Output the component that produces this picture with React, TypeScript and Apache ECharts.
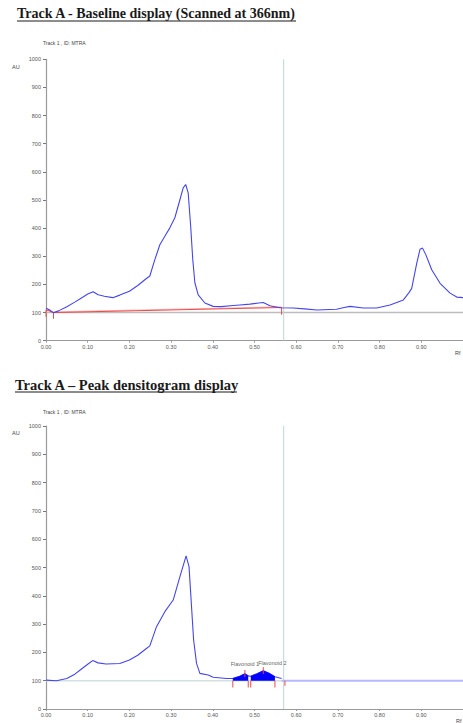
import React, { useEffect, useRef } from "react";
import * as echarts from "echarts";

// ---- Data ----
const titles = ["Track A - Baseline display (Scanned at 366nm)", "Track A \u2013 Peak densitogram display"];
const trackLabel = "Track 1 , ID: MTRA";
const xTicks = { min: 0, max: 1, interval: 0.1 };
const yTicks = { min: 0, max: 1000, interval: 100 };

// Top: raw densitogram (Rf, AU)
const topRf = [0.0, 0.008, 0.018, 0.03, 0.05, 0.07, 0.085, 0.1, 0.113, 0.125, 0.14, 0.16, 0.177, 0.2, 0.22, 0.24, 0.249, 0.261, 0.273, 0.285, 0.297, 0.309, 0.321, 0.329, 0.335, 0.341, 0.347, 0.352, 0.357, 0.365, 0.381, 0.401, 0.42, 0.449, 0.465, 0.489, 0.51, 0.521, 0.537, 0.561, 0.593, 0.62, 0.65, 0.68, 0.697, 0.715, 0.729, 0.761, 0.793, 0.825, 0.857, 0.87, 0.877, 0.889, 0.897, 0.903, 0.911, 0.925, 0.945, 0.969, 0.985, 1.0];
const topAU = [115, 110, 99, 106, 121, 138, 152, 166, 174, 163, 158, 153, 162, 176, 196, 220, 230, 288, 341, 371, 401, 437, 500, 543, 555, 525, 405, 288, 206, 163, 134, 122, 121, 125, 127, 130, 134, 136, 124, 117, 116, 113, 109, 111, 112, 118, 122, 116, 116, 127, 145, 170, 186, 275, 325, 329, 305, 252, 204, 169, 155, 153];
const topBaselineRf = [0.0, 0.018, 0.565];
const topBaselineAU = [110, 100, 118];

// Bottom: peak densitogram (Rf, AU)
const botRf = [0.0, 0.025, 0.05, 0.07, 0.082, 0.1, 0.112, 0.125, 0.144, 0.177, 0.2, 0.22, 0.24, 0.249, 0.265, 0.285, 0.305, 0.321, 0.336, 0.343, 0.349, 0.354, 0.361, 0.369, 0.389, 0.401, 0.433, 0.448, 0.465, 0.477, 0.485, 0.491, 0.505, 0.521, 0.535, 0.549, 0.565];
const botAU = [102, 100, 108, 124, 138, 158, 171, 163, 159, 161, 173, 190, 213, 223, 291, 344, 385, 467, 541, 503, 361, 244, 161, 126, 120, 112, 108, 108, 116, 125, 117, 116, 124, 135, 126, 114, 108];
const peakNames = ["Flavonoid 1", "Flavonoid 2"];
const peakStart = [0.448, 0.491];
const peakEnd = [0.485, 0.549];
const peakMax = [0.477, 0.521];
const trackEndRf = 0.57;
const baselineAU = 100;

const zip = (a: number[], b: number[]) => a.map((v, i) => [v, b[i]]);

export default function App() {
  const ref = useRef<HTMLDivElement>(null);
  useEffect(() => {
    if (!ref.current) return;
    const chart = echarts.init(ref.current, undefined, { renderer: "svg" });
    const font = "Liberation Sans";
    const xAxisBase = (gi: number) => ({
      gridIndex: gi,
      type: "value",
      min: xTicks.min,
      max: xTicks.max,
      interval: xTicks.interval,
      axisLine: { show: true, onZero: false, lineStyle: { color: "#9a9a9a", width: 1.2 } },
      axisTick: { show: true, length: 2, lineStyle: { color: "#9a9a9a" } },
      axisLabel: { fontSize: 5.5, color: "#555", margin: 3, fontFamily: font, showMaxLabel: false, formatter: (v: number) => v.toFixed(2) },
      splitLine: { show: false },
    });
    const yAxisBase = (gi: number) => ({
      gridIndex: gi,
      type: "value",
      min: yTicks.min,
      max: yTicks.max,
      interval: yTicks.interval,
      axisLine: { show: true, lineStyle: { color: "#9a9a9a", width: 1.2 } },
      axisTick: { show: true, length: 3, lineStyle: { color: "#777" } },
      axisLabel: { fontSize: 5.5, color: "#555", margin: 5, fontFamily: font, formatter: (v: number) => String(v) },
      splitLine: { show: false },
    });
    const botCurve = zip(botRf, botAU);
    const peakData = (i: number) => botCurve.filter((p) => p[0] >= peakStart[i] - 1e-9 && p[0] <= peakEnd[i] + 1e-9);
    const peakTop = (i: number) => botAU[botRf.indexOf(peakMax[i])];
    const red = "#f04848";
    // segments joined with gaps ('-') so one line series draws many short ticks
    const segs = (list: number[][]) => {
      const out: any[] = [];
      list.forEach(([x, y1, y2], i) => {
        if (i > 0) out.push("-");
        out.push([x, y1], [x, y2]);
      });
      return out;
    };
    const txt = (text: string, left: number, top: number, size: number, fill = "#444") => ({
      type: "text", left, top, silent: true,
      style: { text, fontSize: size, fontFamily: font, fill },
    });
    const plain = (gi: number, z: number, data: any[], color: string, width: number, extra: any = {}) => ({
      type: "line", xAxisIndex: gi, yAxisIndex: gi, z, symbol: "none", silent: true, connectNulls: false,
      data, color, lineStyle: { color, width }, ...extra,
    });

    const option: any = {
      animation: false,
      backgroundColor: "#fff",
      grid: [
        { left: 46, top: 59.3, width: 417, height: 281.4 },
        { left: 46, top: 426, width: 417, height: 283 },
      ],
      xAxis: [xAxisBase(0), xAxisBase(1)],
      yAxis: [yAxisBase(0), yAxisBase(1)],
      series: [
        // ---- top chart ----
        plain(0, 1, [[xTicks.min, baselineAU], [xTicks.max, baselineAU]], "#bdbdbd", 1.5),
        plain(0, 1, [[trackEndRf, yTicks.min], [trackEndRf, yTicks.max]], "#bcd6d6", 1),
        plain(0, 2, zip(topBaselineRf, topBaselineAU.map((v, i) => (i === 0 ? v : v + 2.5))), "#f8b8b8", 1),
        plain(0, 3, zip(topBaselineRf, topBaselineAU), red, 1),
        plain(0, 3, segs([
          [topBaselineRf[0], topBaselineAU[0], 85],
          [topBaselineRf[1], topBaselineAU[1], 78],
          [topBaselineRf[2], topBaselineAU[2], 92],
        ]), red, 1),
        plain(0, 4, zip(topRf, topAU), "#4545ee", 1.1),
        // ---- bottom chart ----
        plain(1, 1, [[xTicks.min, baselineAU], [trackEndRf, baselineAU]], "#d2e2de", 1.5),
        plain(1, 1, [[trackEndRf, yTicks.min], [trackEndRf, yTicks.max]], "#bcd6d6", 1),
        plain(1, 2, [[botRf[botRf.length - 1], baselineAU], [xTicks.max, baselineAU]], "#b8b8ff", 2),
        plain(1, 3, zip(botRf, botAU), "#4545ee", 1.1),
        ...[0, 1].map((i) =>
          plain(1, 4, peakData(i), "#0000ff", 0.6, { areaStyle: { color: "#0000ff", opacity: 1, origin: baselineAU } })
        ),
        plain(1, 5, segs([
          [peakStart[0], baselineAU, 76],
          [peakEnd[0], baselineAU, 76],
          [peakStart[1], baselineAU, 76],
          [peakEnd[1], baselineAU, 76],
          [trackEndRf + 0.003, baselineAU, 82],
          [peakMax[0], peakTop(0) - 12, peakTop(0) + 13],
          [peakMax[1], peakTop(1) - 11, peakTop(1) + 13],
        ]), red, 1),
        {
          type: "scatter", xAxisIndex: 1, yAxisIndex: 1, z: 6, symbolSize: 0, silent: true,
          data: [
            { name: peakNames[0], value: [peakMax[0], 158] },
            { name: peakNames[1], value: [0.543, 164] },
          ],
          label: { show: true, position: "inside", formatter: "{b}", fontSize: 5.5, color: "#333", fontFamily: font },
        },
      ],
      graphic: [
        { type: "text", left: 17, top: 6, silent: true, style: { text: titles[0], fontSize: 14, fontWeight: "bold", fontFamily: "Liberation Serif", fill: "#1a1a1a" } },
        { type: "line", silent: true, shape: { x1: 17, y1: 21, x2: 296, y2: 21 }, style: { stroke: "#1a1a1a", lineWidth: 1 } },
        txt(trackLabel, 43, 40.5, 5),
        txt("AU", 12, 64, 5.5),
        txt("Rf", 455, 350, 5.5),

        { type: "text", left: 15, top: 377, silent: true, style: { text: titles[1], fontSize: 14.5, fontWeight: "bold", fontFamily: "Liberation Serif", fill: "#1a1a1a" } },
        { type: "line", silent: true, shape: { x1: 15, y1: 392, x2: 237, y2: 392 }, style: { stroke: "#1a1a1a", lineWidth: 1 } },
        txt(trackLabel, 43, 409.5, 5),
        txt("AU", 12, 430, 5.5),
        txt("Rf", 456, 718, 5.5),
      ],
    };
    chart.setOption(option);
    return () => chart.dispose();
  }, []);
  return <div ref={ref} style={{ position: "absolute", left: 0, top: 0, width: 463, height: 723, background: "#fff" }} />;
}
